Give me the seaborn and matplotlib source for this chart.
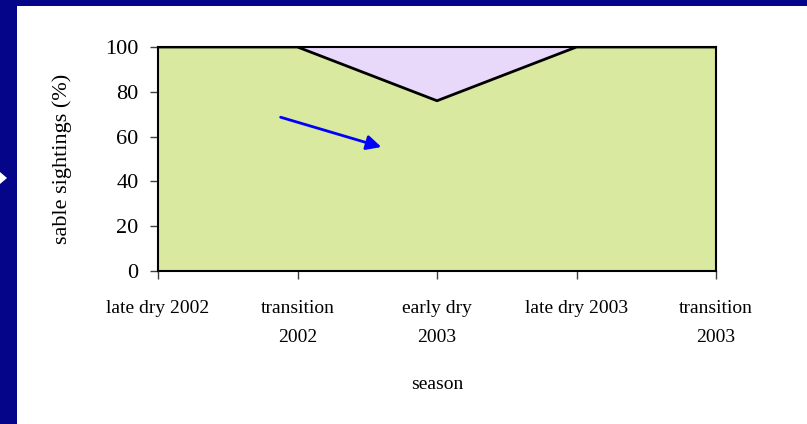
import matplotlib
matplotlib.use("Agg")
import matplotlib.pyplot as plt
import seaborn as sns
import pandas as pd
import numpy as np
from matplotlib.patches import Rectangle, Polygon

# data
seasons = ["late dry 2002", "transition\n2002", "early dry\n2003",
           "late dry 2003", "transition\n2003"]
sable_pct = [100, 100, 76, 100, 100]
other_pct = [0, 0, 24, 0, 0]
yticks = [0, 20, 40, 60, 80, 100]

df = pd.DataFrame({"pos": range(len(seasons)), "sable": sable_pct, "other": other_pct})
df["top"] = df["sable"] + df["other"]

sns.set_style("white")
plt.rcParams["font.family"] = ["Liberation Serif", "DejaVu Serif"]
plt.rcParams["text.color"] = "black"
plt.rcParams["axes.labelcolor"] = "black"
plt.rcParams["xtick.color"] = "black"
plt.rcParams["ytick.color"] = "black"

fig = plt.figure(figsize=(8.07, 4.24), dpi=100, facecolor="#05058a")
# white slide panel
fig.patches.append(Rectangle((17 / 807, 0), 1, 418 / 424, transform=fig.transFigure,
                             facecolor="white", edgecolor="none", zorder=-10))
# little bullet triangle on the left edge
fig.patches.append(Polygon([(0 / 807, 1 - 172 / 424), (7 / 807, 1 - 178 / 424),
                            (0 / 807, 1 - 184 / 424)], closed=True,
                           transform=fig.transFigure, facecolor="white",
                           edgecolor="none", zorder=-9))

ax = fig.add_axes([158 / 807, 1 - 271 / 424, (716 - 158) / 807, (271 - 47) / 424])
ax.set_facecolor("white")

ax.fill_between(df["pos"], df["sable"], df["top"], color="#e8d9fa", zorder=1)
ax.fill_between(df["pos"], 0, df["sable"], color="#d9e9a0", zorder=2)
sns.lineplot(x="pos", y="sable", data=df, color="black", linewidth=2, ax=ax, zorder=3)

ax.set_xlim(0, len(seasons) - 1)
ax.set_ylim(0, 100)
ax.set_xticks(df["pos"])
ax.set_xticklabels(seasons, fontsize=14, linespacing=1.9)
ax.set_yticks(yticks)
ax.set_yticklabels([str(v) for v in yticks], fontsize=16)
ax.tick_params(axis="both", direction="out", length=6, width=1,
               left=True, bottom=True)
ax.tick_params(axis="both", color="#404040")
ax.tick_params(axis="x", pad=15)
ax.tick_params(axis="y", pad=8)
for s in ax.spines.values():
    s.set_visible(True)
    s.set_color("black")
    s.set_linewidth(1.5)
    s.set_zorder(4)

ax.set_xlabel("season", fontsize=14, labelpad=22)
ax.set_ylabel("sable sightings (%)", fontsize=16, labelpad=24)

ax.annotate("", xy=(1.62, 55), xytext=(0.86, 69),
            arrowprops=dict(arrowstyle="-|>", color="#0000ff", lw=2,
                            mutation_scale=22), zorder=5)

fig.savefig("out.png", dpi=100, facecolor=fig.get_facecolor())
